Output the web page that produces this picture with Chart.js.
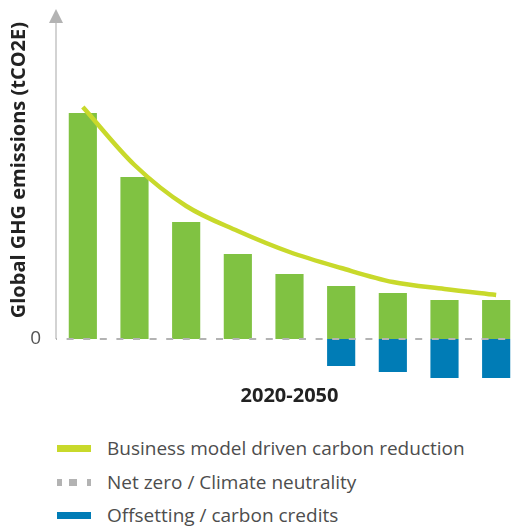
<!DOCTYPE html>
<html>
<head>
<meta charset="utf-8">
<script src="https://cdn.jsdelivr.net/npm/chart.js@4.4.0/dist/chart.umd.min.js"></script>
<style>
  html, body { margin: 0; padding: 0; background: #fff; }
  body { width: 524px; height: 526px; position: relative; overflow: hidden; font-family: 'Open Sans', sans-serif; }
  #wrap { position: absolute; left: 0; top: 0; width: 524px; height: 425px; }
  .row { position: absolute; left: 0; height: 33px; line-height: 33px; font-size: 19px; color: #4d4d4d; white-space: nowrap; }
  .row .sw { position: absolute; left: 57px; top: 13px; width: 34px; height: 7px; }
  .row .txt { position: absolute; left: 107px; top: 0; }
</style>
</head>
<body>
<div id="wrap"><canvas id="ghgChart"></canvas></div>
<div id="legend"></div>
<script>
// values (no unit on the axis)
const steps = ['1', '2', '3', '4', '5', '6', '7', '8', '9'];
const emissions = [226, 162, 117, 85, 65, 53, 46, 39, 39];
const offsets = [null, null, null, null, null, -27, -33, -39, -39];
const reductionPath = [232, 174, 133, 108, 87, 71, 57, 50, 44];
const seriesNames = ['Business model driven carbon reduction', 'Net zero / Climate neutrality', 'Offsetting / carbon credits'];

const GREEN = '#80c242';
const LIME = '#c8d92b';
const BLUE = '#007cb6';
const GREY = '#b3b3b3';
const FONT = "'Open Sans', sans-serif";

// y axis with arrow and dashed zero line
const axisDecor = {
    id: 'axisDecor',
    afterDatasetsDraw(chart) {
        const { ctx, chartArea, scales: { y } } = chart;
        const zero = y.getPixelForValue(0);
        const x0 = chartArea.left - 1;
        ctx.save();
        ctx.strokeStyle = '#c4c4c4';
        ctx.lineWidth = 1.5;
        ctx.beginPath();
        ctx.moveTo(x0, zero);
        ctx.lineTo(x0, chartArea.top);
        ctx.stroke();

        ctx.fillStyle = GREY;
        ctx.beginPath();
        ctx.moveTo(x0 - 7, chartArea.top + 1);
        ctx.lineTo(x0 + 7, chartArea.top + 1);
        ctx.lineTo(x0, chartArea.top - 13);
        ctx.closePath();
        ctx.fill();

        ctx.strokeStyle = GREY;
        ctx.lineWidth = 2;
        ctx.setLineDash([7, 9.6]);
        ctx.lineDashOffset = 6;
        ctx.beginPath();
        ctx.moveTo(x0, zero);
        ctx.lineTo(chartArea.right - 9, zero);
        ctx.stroke();
        ctx.restore();
    }
};

const ctx = document.getElementById('ghgChart').getContext('2d');

const chart = new Chart(ctx, {
    type: 'bar',
    data: {
        labels: steps,
        datasets: [
            {
                type: 'line',
                label: seriesNames[0],
                data: reductionPath,
                borderColor: LIME,
                borderWidth: 4.5,
                borderCapStyle: 'butt',
                pointRadius: 0,
                cubicInterpolationMode: 'monotone',
                fill: false,
                stack: 'path',
                order: 0
            },
            {
                label: 'Emissions',
                data: emissions,
                backgroundColor: GREEN,
                barPercentage: 0.545,
                categoryPercentage: 1,
                grouped: false,
                stack: 'bars',
                order: 1
            },
            {
                label: seriesNames[2],
                data: offsets,
                backgroundColor: BLUE,
                barPercentage: 0.545,
                categoryPercentage: 1,
                grouped: false,
                stack: 'bars',
                order: 1
            }
        ]
    },
    options: {
        responsive: true,
        maintainAspectRatio: false,
        animation: false,
        layout: { padding: { top: 22, right: 2, left: 0, bottom: 0 } },
        plugins: {
            legend: { display: false },
            tooltip: { enabled: false }
        },
        scales: {
            x: {
                stacked: true,
                grid: { display: false, drawTicks: false },
                border: { display: false },
                ticks: { display: false },
                title: {
                    display: true,
                    text: '2020-2050',
                    color: '#222',
                    font: { family: FONT, size: 20, weight: 'bold' },
                    padding: { top: 0, bottom: 17 }
                },
                afterFit: s => { s.height = 38; }
            },
            y: {
                stacked: true,
                min: -48,
                max: 317,
                grid: { display: false, drawTicks: false },
                border: { display: false },
                ticks: { padding: 16, color: '#555', font: { family: FONT, size: 19 } },
                afterBuildTicks: s => { s.ticks = [{ value: 0 }]; },
                title: {
                    display: true,
                    text: 'Global GHG emissions (tCO2E)',
                    align: 'end',
                    color: '#222',
                    font: { family: FONT, size: 20, weight: 'bold' },
                    padding: { top: 7, bottom: 0 }
                },
                afterFit: s => {
                    s.width = 57;
                    s.paddingTop = 0;
                    s.paddingBottom = 0;
                }
            }
        }
    },
    plugins: [axisDecor]
});

// legend
const swatches = [
    'background:' + LIME,
    'background:linear-gradient(to right,' + GREY + ' 0 5px,#fff 5px 12px,' + GREY + ' 12px 20px,#fff 20px 30px,' + GREY + ' 30px 34px)',
    'background:' + BLUE
];
const legend = document.getElementById('legend');
seriesNames.forEach((name, i) => {
    const row = document.createElement('div');
    row.className = 'row';
    row.style.top = (432 + i * 33.5) + 'px';
    row.innerHTML = '<span class="sw" style="' + swatches[i] + '"></span><span class="txt"></span>';
    row.querySelector('.txt').textContent = name;
    legend.appendChild(row);
});
</script>
</body>
</html>
